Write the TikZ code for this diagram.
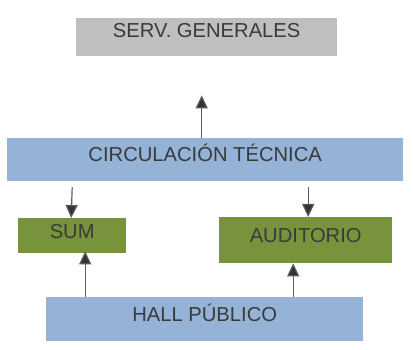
\documentclass[tikz,border=0pt]{standalone}
\usepackage{fontspec}
\setmainfont{Liberation Sans}
\usetikzlibrary{arrows.meta,calc}
\definecolor{servgray}{HTML}{BFBFBF}
\definecolor{circblue}{HTML}{95B3D7}
\definecolor{olive}{HTML}{77933C}
\definecolor{txt}{HTML}{3A3A3A}
\definecolor{linegray}{HTML}{5A5A5A}
\definecolor{tipgray}{HTML}{333333}
\tikzset{
  box/.style={rectangle, inner sep=0pt, text=txt, font=\fontsize{20.2}{24}\selectfont, anchor=north west},
  flow/.style={draw=linegray, line width=1.2pt, -{Triangle[width=12pt,length=13pt,fill=tipgray]}, color=linegray}
}
\begin{document}
\begin{tikzpicture}[x=1pt,y=-1pt]
\useasboundingbox (0,0) rectangle (413,350);
% boxes: width/height given; text height and depth place the baseline
\node[box, fill=servgray, minimum width=261pt, text height=19pt, text depth=19pt] (serv) at (76,18) {SERV. GENERALES};
\node[box, fill=circblue, minimum width=396pt, text height=23pt, text depth=20pt] (circ) at (7,138) {CIRCULACIÓN TÉCNICA};
\node[box, fill=olive, minimum width=108pt, text height=20pt, text depth=15pt] (sum) at (18,218) {SUM};
\node[box, fill=olive, minimum width=173pt, text height=25pt, text depth=21pt] (aud) at (219,217) {AUDITORIO};
\node[box, fill=circblue, minimum width=317pt, text height=24pt, text depth=20pt] (hall) at (46,297) {HALL PÚBLICO};
% connectors
\draw[flow] ([xshift=-5pt]serv.south |- circ.north) -- ([xshift=-5pt,yshift=-39pt]serv.south);
\draw[flow] ([yshift=-6pt]sum.north |- circ.south) -- ([xshift=-1pt]sum.north);
\draw[flow] ([xshift=2.5pt,yshift=-6pt]aud.north |- circ.south) -- ([xshift=2.5pt]aud.north);
\draw[flow] ([xshift=13pt]sum.south |- hall.north) -- ([xshift=13pt,yshift=2pt]sum.south);
\draw[flow] ([xshift=-12.5pt]aud.south |- hall.north) -- ([xshift=-12.5pt]aud.south);
\end{tikzpicture}
\end{document}
